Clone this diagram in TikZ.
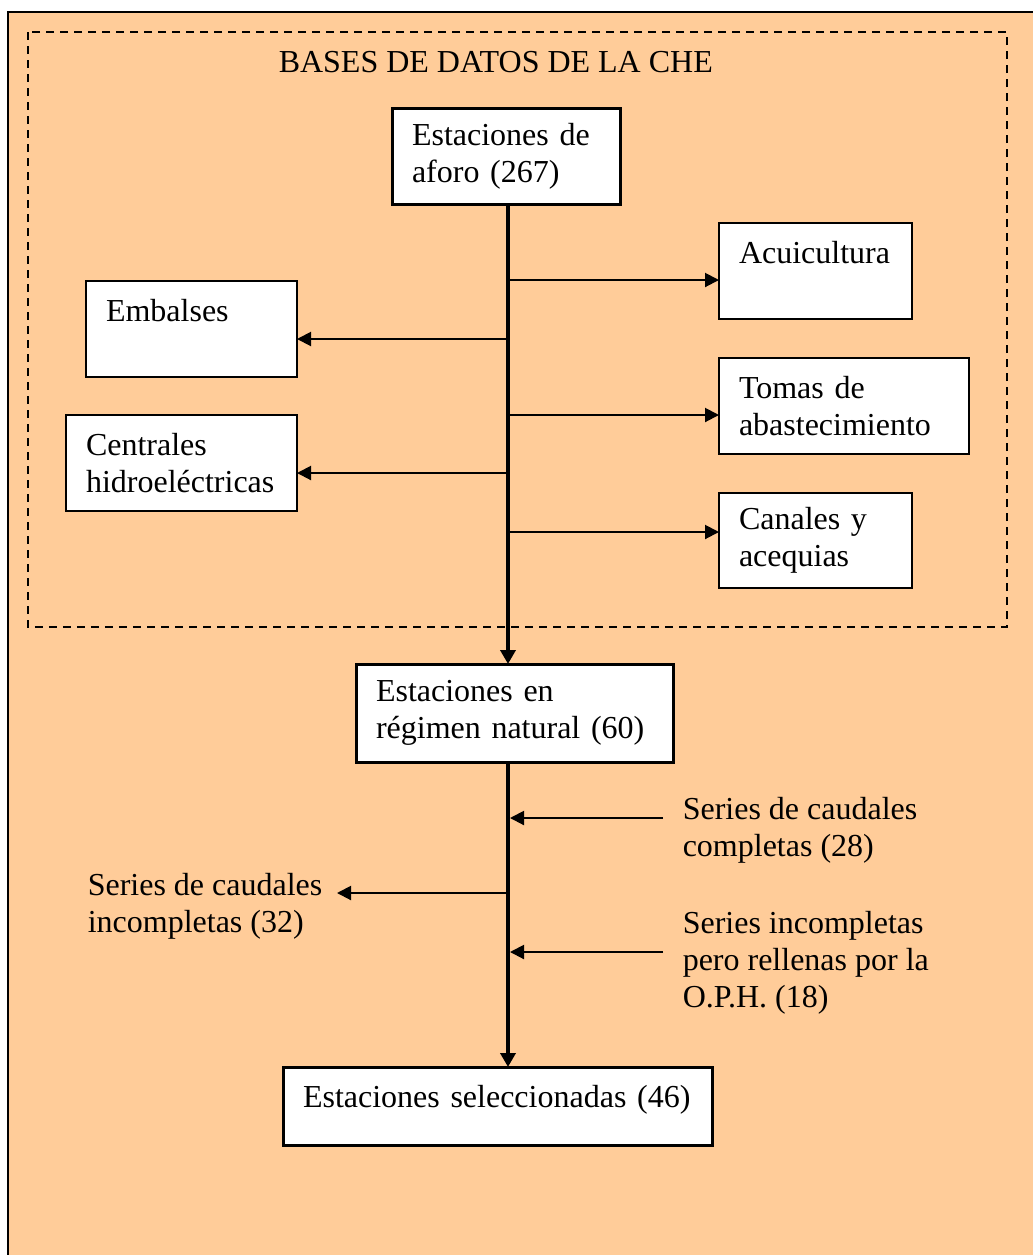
\documentclass[tikz,border=0pt]{standalone}
\usepackage{fontspec}
\setmainfont{Liberation Serif}
\usetikzlibrary{arrows.meta}

\tikzset{every picture/.style={line width=0.75pt}}
\tikzset{
  txt/.style={font=\fontsize{16}{18.5}\selectfont},
  box/.style={txt, draw, fill=white, anchor=north west, align=left, outer sep=0pt,
    inner xsep=10pt, inner ysep=0pt, line width=1pt},
  thickbox/.style={box, line width=1.5pt},
  freetext/.style={txt, anchor=north west, align=left, inner sep=0pt},
  branch/.style={line width=1pt, -{Triangle[length=7pt,width=7pt]}},
  trunkline/.style={line width=1.75pt, -{Triangle[length=7pt,width=7.5pt]}}
}

\begin{document}
\begin{tikzpicture}[x=0.5pt,y=0.5pt,yscale=-1,xscale=1]
	\useasboundingbox (0,0) rectangle (1033,1255);

	%Shape: Rectangle [background]
	\draw  [line width=1pt][fill={rgb, 255:red, 255; green, 204; blue, 153 }  ,fill opacity=1 ] (8,12) rectangle (1045,1265) ;
	%Shape: Rectangle [dashed frame]
	\draw  [line width=1pt][dash pattern={on 4pt off 3pt}] (28,32) rectangle (1007,627) ;

	% Text Node
	\draw (278,72) node [txt, anchor=base west, inner sep=0pt] (title) {BASES DE DATOS DE LA CHE};

	% Boxes
	\draw (392,108) node [thickbox, minimum width=114pt, minimum height=48pt, text width=94pt] (aforo) {Estaciones de\\aforo (267)};
	\draw (719,223) node [box, minimum width=96.5pt, minimum height=48pt, text width=76.5pt] (acui) {Acuicultura\\\mbox{}};
	\draw (719,358) node [box, minimum width=125pt, minimum height=48pt, text width=105pt] (tomas) {Tomas de\\abastecimiento};
	\draw (719,493) node [box, minimum width=96.5pt, minimum height=47.5pt, text width=76.5pt] (canales) {Canales y\\acequias};
	\draw (86,281) node [box, minimum width=105.5pt, minimum height=48pt, text width=85.5pt] (embalses) {Embalses\\\mbox{}};
	\draw (66,415) node [box, minimum width=115.5pt, minimum height=48pt, text width=95.5pt] (centrales) {Centrales\\hidroeléctricas};
	\draw (356,664) node [thickbox, minimum width=158.5pt, minimum height=49pt, text width=138.5pt] (natural) {Estaciones en\\régimen natural (60)};
	\draw (283,1067) node [thickbox, minimum width=214.5pt, minimum height=39pt, text width=194.5pt] (selec) {Estaciones seleccionadas (46)\\[-9pt]\mbox{}};

	% Text Node
	\draw (682,797) node [freetext] (compl) {Series de caudales\\completas (28)};
	% Text Node
	\draw (87,873) node [freetext] (incompl) {Series de caudales\\incompletas (32)};
	% Text Node
	\draw (682,911) node [freetext] (oph) {Series incompletas\\pero rellenas por la\\O.P.H. (18)};

	% Trunk
	\coordinate (trunk) at (508,0);
	\draw [trunkline] (aforo.south -| trunk) -- (natural.north -| trunk) ;
	\draw [trunkline] (natural.south -| trunk) -- (selec.north -| trunk) ;

	% Branches, upper part
	\coordinate (bAcui) at (508,280);
	\coordinate (bEmb) at (508,339);
	\coordinate (bTomas) at (508,415);
	\coordinate (bCent) at (508,473);
	\coordinate (bCan) at (508,532);
	\draw [branch] (bAcui) -- (bAcui -| acui.west) ;
	\draw [branch] (bEmb) -- (bEmb -| embalses.east) ;
	\draw [branch] (bTomas) -- (bTomas -| tomas.west) ;
	\draw [branch] (bCent) -- (bCent -| centrales.east) ;
	\draw [branch] (bCan) -- (bCan -| canales.west) ;

	% Branches, lower part
	\coordinate (bCompl) at (663,818);
	\coordinate (bIncompl) at (508,893);
	\coordinate (bOph) at (663,952);
	\draw [branch] (bCompl) -- (bCompl -| 510,0) ;
	\draw [branch] (bIncompl) -- (bIncompl -| 337,0) ;
	\draw [branch] (bOph) -- (bOph -| 510,0) ;

\end{tikzpicture}
\end{document}
